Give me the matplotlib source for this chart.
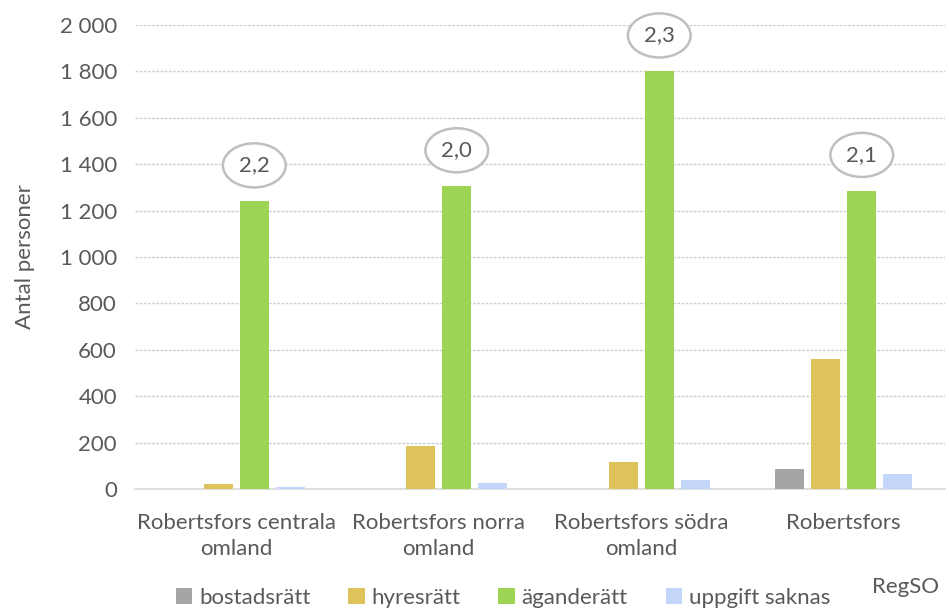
import matplotlib
matplotlib.use("Agg")
import matplotlib.pyplot as plt
from matplotlib.patches import Ellipse
import numpy as np

categories = ["Robertsfors centrala\nomland", "Robertsfors norra\nomland",
              "Robertsfors södra\nomland", "Robertsfors"]
series_names = ["bostadsrätt", "hyresrätt", "äganderätt", "uppgift saknas"]
bostadsratt = [0, 0, 0, 88]
hyresratt = [22, 187, 115, 560]
aganderatt = [1240, 1305, 1800, 1285]
uppgift_saknas = [10, 27, 39, 66]
avg_labels = ["2,2", "2,0", "2,3", "2,1"]
yticks = [0, 200, 400, 600, 800, 1000, 1200, 1400, 1600, 1800, 2000]

colors = ["#a5a5a5", "#dec35a", "#9dd453", "#c5d6fb"]
text_col = "#595959"

plt.rcParams["font.family"] = ["Lato", "DejaVu Sans"]

fig = plt.figure(figsize=(9.49, 6.10), dpi=100)
ax = fig.add_axes([135 / 949, 1 - 489 / 610, 810 / 949, 464 / 610])

x = np.arange(len(categories))
slot = 0.178
width = 0.143
data = [bostadsratt, hyresratt, aganderatt, uppgift_saknas]
for i, (vals, col, name) in enumerate(zip(data, colors, series_names)):
    ax.bar(x + (i - 1.5) * slot, vals, width=width, color=col, label=name, zorder=3)

# average household size labels in ellipses above the äganderätt bars
for xi, v, lab in zip(x, aganderatt, avg_labels):
    xc = xi + 0.5 * slot
    yc = v + 155
    ax.add_patch(Ellipse((xc, yc), width=0.31, height=190, facecolor="white",
                         edgecolor="#bfbfbf", linewidth=1.8, zorder=4, clip_on=False))
    ax.text(xc, yc, lab, ha="center", va="center", fontsize=16, color=text_col, zorder=5)

ax.set_xlim(-0.5, 3.5)
ax.set_ylim(0, 2000)
ax.set_yticks(yticks)
ax.set_yticklabels([f"{t:,}".replace(",", " ") for t in yticks])
ax.set_xticks(x)
ax.set_xticklabels(categories, linespacing=1.4)
ax.tick_params(axis="both", length=0, labelsize=16, colors=text_col)
ax.tick_params(axis="y", pad=13)
ax.tick_params(axis="x", pad=17)
ax.yaxis.grid(True, color="#d0d0d0", linestyle=(0, (2, 1)), linewidth=1, zorder=0)
for s in ["top", "right", "left"]:
    ax.spines[s].set_visible(False)
ax.spines["bottom"].set_color("#d9d9d9")
ax.spines["bottom"].set_linewidth(1.2)
ax.spines["bottom"].set_zorder(2)

ax.set_ylabel("Antal personer", fontsize=16, color=text_col, labelpad=18)

fig.text(905 / 949, 1 - 587 / 610, "RegSO", ha="center", va="center", fontsize=16, color=text_col)

fig.legend(loc="center", bbox_to_anchor=(503 / 949, 1 - 598 / 610), ncol=4, frameon=False,
           fontsize=16, labelcolor=text_col, handlelength=0.75, handleheight=0.75,
           handletextpad=0.3, columnspacing=1.7)

fig.savefig("out.png", dpi=100)
